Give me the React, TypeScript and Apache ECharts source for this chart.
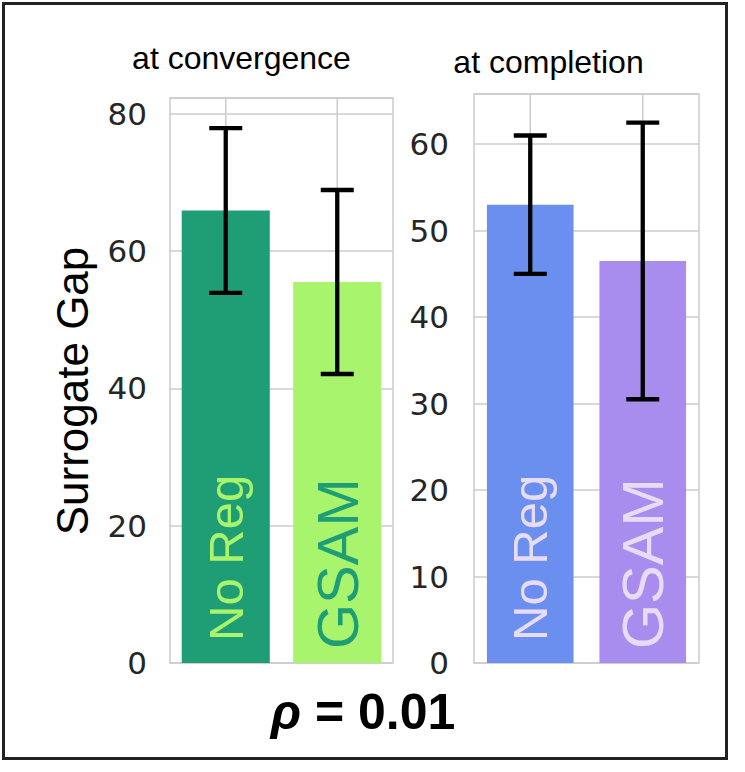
import React, { useEffect, useRef } from "react";
import * as echarts from "echarts";

const categories = ["No Reg", "GSAM"];
const convergenceMeans = [65.9, 55.5];
const convergenceErrors = [12.0, 13.4];
const completionMeans = [53.0, 46.5];
const completionErrors = [8.0, 16.0];
const convergenceAxisMax = 82.3;
const completionAxisMax = 65.8;
const convergenceTickStep = 20;
const completionTickStep = 10;
const panelTitles = ["at convergence", "at completion"];
const yAxisTitle = "Surrogate Gap";
const rhoValue = "0.01";

const convergenceColors = ["#1f9e76", "#a8f46c"];
const convergenceLabelColors = ["#a8f46c", "#1f9e76"];
const completionColors = ["#6a8fee", "#a88cee"];
const completionLabelColors = ["#e8dcf4", "#e8dcf4"];
const labelSizes = [49, 58];
const labelDistances = [22, 14];

const GRID_COLOR = "#cccccc";

function barSeries(idx: number, means: number[], colors: string[], labelColors: string[], barWidth: string) {
  return {
    type: "bar",
    xAxisIndex: idx,
    yAxisIndex: idx,
    barWidth,
    z: 2,
    data: means.map((v, i) => ({
      value: v,
      itemStyle: { color: colors[i] },
      label: {
        show: true,
        formatter: categories[i],
        position: "insideBottom",
        rotate: 90,
        align: "left",
        verticalAlign: "middle",
        distance: labelDistances[i],
        fontFamily: "Liberation Sans, Arial, sans-serif",
        fontSize: labelSizes[i],
        color: labelColors[i],
      },
    })),
  };
}

function gridLineSeries(idx: number) {
  return {
    type: "custom",
    xAxisIndex: idx,
    yAxisIndex: idx,
    z: 1,
    silent: true,
    data: categories.map((_, i) => [i, 0]),
    encode: { x: 0, y: 1 },
    renderItem: (params: any, api: any) => {
      const x = api.coord([api.value(0), 0])[0];
      const cs = params.coordSys;
      return {
        type: "line",
        shape: { x1: x, y1: cs.y, x2: x, y2: cs.y + cs.height },
        style: { stroke: GRID_COLOR, lineWidth: 1.5 },
      };
    },
  };
}

function errorSeries(idx: number, means: number[], errs: number[]) {
  return {
    type: "custom",
    xAxisIndex: idx,
    yAxisIndex: idx,
    z: 3,
    silent: true,
    data: means.map((m, i) => [i, m - errs[i], m + errs[i]]),
    encode: { x: 0, y: [1, 2] },
    renderItem: (params: any, api: any) => {
      const lo = api.coord([api.value(0), api.value(1)]);
      const hi = api.coord([api.value(0), api.value(2)]);
      const half = 16.5;
      const style = { stroke: "#000000", lineWidth: 4.3 };
      return {
        type: "group",
        children: [
          { type: "line", shape: { x1: lo[0], y1: lo[1], x2: hi[0], y2: hi[1] }, style },
          { type: "line", shape: { x1: lo[0] - half, y1: lo[1], x2: lo[0] + half, y2: lo[1] }, style },
          { type: "line", shape: { x1: hi[0] - half, y1: hi[1], x2: hi[0] + half, y2: hi[1] }, style },
        ],
      };
    },
  };
}

function yAxis(idx: number, max: number, step: number, margin: number) {
  return {
    type: "value",
    gridIndex: idx,
    min: 0,
    max,
    interval: step,
    axisLine: { show: false },
    axisTick: { show: false },
    splitLine: { show: true, lineStyle: { color: GRID_COLOR, width: 1.5 } },
    axisLabel: {
      showMaxLabel: false,
      margin,
      fontFamily: "DejaVu Sans, sans-serif",
      fontSize: 31,
      color: "#262626",
      formatter: (v: number) => (Math.abs(v % step) < 1e-9 ? String(v) : ""),
    },
  };
}

function xAxis(idx: number) {
  return {
    type: "category",
    gridIndex: idx,
    data: categories,
    axisLine: { show: false },
    axisTick: { show: false },
    axisLabel: { show: false },
    splitLine: { show: false },
  };
}

export default function App() {
  const ref = useRef<HTMLDivElement>(null);
  useEffect(() => {
    if (!ref.current) return;
    const chart = echarts.init(ref.current, undefined, { renderer: "svg" });
    chart.setOption({
      animation: false,
      backgroundColor: "#ffffff",
      grid: [
        { left: 170, top: 98, width: 223, height: 565, show: true, borderColor: GRID_COLOR, borderWidth: 1.5, backgroundColor: "transparent" },
        { left: 474, top: 94, width: 225, height: 569, show: true, borderColor: GRID_COLOR, borderWidth: 1.5, backgroundColor: "transparent" },
      ],
      xAxis: [xAxis(0), xAxis(1)],
      yAxis: [
        yAxis(0, convergenceAxisMax, convergenceTickStep, 23),
        yAxis(1, completionAxisMax, completionTickStep, 25),
      ],
      series: [
        gridLineSeries(0),
        gridLineSeries(1),
        barSeries(0, convergenceMeans, convergenceColors, convergenceLabelColors, "79%"),
        barSeries(1, completionMeans, completionColors, completionLabelColors, "77%"),
        errorSeries(0, convergenceMeans, convergenceErrors),
        errorSeries(1, completionMeans, completionErrors),
      ],
      graphic: [
        {
          type: "rect",
          shape: { x: 3.5, y: 3.5, width: 723, height: 755 },
          style: { fill: "none", stroke: "#222222", lineWidth: 3 },
          z: 10,
        },
        {
          type: "text",
          x: 241.5,
          y: 58,
          style: { text: panelTitles[0], fontFamily: "Liberation Sans, Arial, sans-serif", fontSize: 32, fill: "#000", align: "center", verticalAlign: "middle" },
        },
        {
          type: "text",
          x: 548.5,
          y: 61.5,
          style: { text: panelTitles[1], fontFamily: "Liberation Sans, Arial, sans-serif", fontSize: 32, fill: "#000", align: "center", verticalAlign: "middle" },
        },
        {
          type: "text",
          x: 72,
          y: 391,
          rotation: Math.PI / 2,
          style: { text: yAxisTitle, fontFamily: "Liberation Sans, Arial, sans-serif", fontSize: 44, fill: "#000", align: "center", verticalAlign: "middle" },
        },
        {
          type: "text",
          x: 363,
          y: 712,
          style: {
            text: "{i|ρ} = " + rhoValue,
            fontFamily: "Liberation Sans, Arial, sans-serif",
            fontSize: 50,
            fontWeight: "bold",
            fill: "#000",
            align: "center",
            verticalAlign: "middle",
            rich: { i: { fontStyle: "italic", fontWeight: "bold", fontSize: 50, fontFamily: "Liberation Sans, Arial, sans-serif", fill: "#000" } },
          },
        },
      ],
    });
    return () => chart.dispose();
  }, []);
  return <div ref={ref} style={{ position: "fixed", left: 0, top: 0, width: 745, height: 772 }} />;
}
